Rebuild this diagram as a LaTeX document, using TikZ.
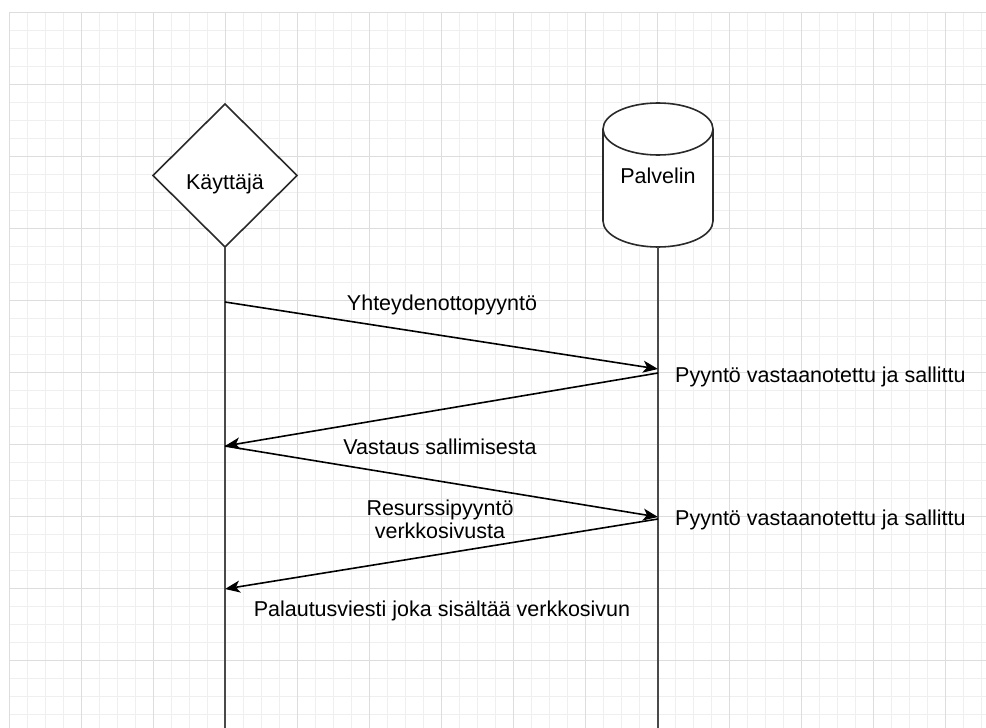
\documentclass[tikz,border=0pt]{standalone}
\usepackage{fontspec}
\setmainfont{Liberation Sans}
\usetikzlibrary{shapes.geometric,arrows.meta}
\definecolor{gridminor}{HTML}{EFEFEF}
\definecolor{gridmajor}{HTML}{DDDDDD}
\definecolor{ink}{HTML}{2A2A2A}
\definecolor{lifeink}{HTML}{4A4A4A}
\newcommand{\lblfont}{\fontsize{21.5pt}{23pt}\selectfont}
\begin{document}
\begin{tikzpicture}[x=1pt,y=-1pt,
  lbl/.style={font=\lblfont, text=black, inner sep=0pt},
  actorbox/.style={diamond, draw=ink, line width=1.6pt, fill=white,
    minimum width=144pt, minimum height=143pt, inner sep=0pt, outer sep=0pt},
  dbbox/.style={rectangle, minimum width=110pt, minimum height=144pt,
    inner sep=0pt, outer sep=0pt},
  dbline/.style={draw=ink, line width=1.6pt},
  lifeline/.style={draw=lifeink, line width=1.8pt},
  msg/.style={draw=black, line width=1.6pt,
    -{Stealth[length=15pt,width=12pt,inset=4pt]}}
]
% canvas
\fill[white] (0,0) rectangle (986,728);
\useasboundingbox (0,0) rectangle (986,728);

% background grid: fine lines every 18, heavier lines every 72
\foreach \gx in {9,27,...,986} \draw[gridminor, line width=1pt] (\gx,12.5) -- (\gx,728);
\foreach \gy in {12.5,30.5,...,728} \draw[gridminor, line width=1pt] (9,\gy) -- (986,\gy);
\foreach \gx in {9,81,...,986} \draw[gridmajor, line width=1pt] (\gx,12.5) -- (\gx,728);
\foreach \gy in {12.5,84.5,...,728} \draw[gridmajor, line width=1pt] (9,\gy) -- (986,\gy);

% participants
\node[actorbox, label={[lbl, anchor=base, yshift=-8.5pt]center:Käyttäjä}] (user) at (225,175.5) {};
\node[dbbox] (srv) at (658,175) {};

% cylinder outline of the server
\fill[white] ([yshift=-26pt]srv.north west) -- ([yshift=26pt]srv.south west)
  arc[start angle=180, end angle=360, x radius=55pt, y radius=26pt]
  -- ([yshift=-26pt]srv.north east)
  arc[start angle=0, end angle=180, x radius=55pt, y radius=26pt] -- cycle;
\draw[dbline] ([yshift=-26pt]srv.north west) -- ([yshift=26pt]srv.south west)
  arc[start angle=180, end angle=360, x radius=55pt, y radius=26pt]
  -- ([yshift=-26pt]srv.north east);
\draw[dbline] ([yshift=-26pt]srv.north) ellipse[x radius=55pt, y radius=26pt];
\node[lbl, anchor=base] (srvname) at ([yshift=-8pt]srv.center) {Palvelin};

% lifelines
\coordinate (userEnd) at (225,728);
\coordinate (srvEnd) at (658,728);
\draw[lifeline] (user.south) -- (userEnd);
\draw[lifeline] (srv.south) -- (srvEnd);

% message end points on the lifelines
\coordinate (u1) at (225,302);
\coordinate (s1) at (658,369);
\coordinate (s2) at (658,373);
\coordinate (u2) at (225,446);
\coordinate (s3) at (658,517);
\coordinate (s4) at (658,519);
\coordinate (u4) at (225,589);

\draw[msg] (u1) -- (s1);
\draw[msg] (s2) -- (u2);
\draw[msg] (u2) -- (s3);
\draw[msg] (s4) -- (u4);

% message labels
\node[lbl, anchor=base] (m1) at (442,310) {Yhteydenottopyyntö};
\node[lbl, anchor=base] (m2) at (440,454) {Vastaus sallimisesta};
\node[lbl, align=center] (m3) at (440,519) {Resurssipyyntö\\verkkosivusta};
\node[lbl, anchor=base] (m4) at (442,616) {Palautusviesti joka sisältää verkkosivun};

% server notes
\node[lbl, anchor=base west] (n1) at (675,382) {Pyyntö vastaanotettu ja sallittu};
\node[lbl, anchor=base west] (n2) at (675,525) {Pyyntö vastaanotettu ja sallittu};
\end{tikzpicture}
\end{document}
